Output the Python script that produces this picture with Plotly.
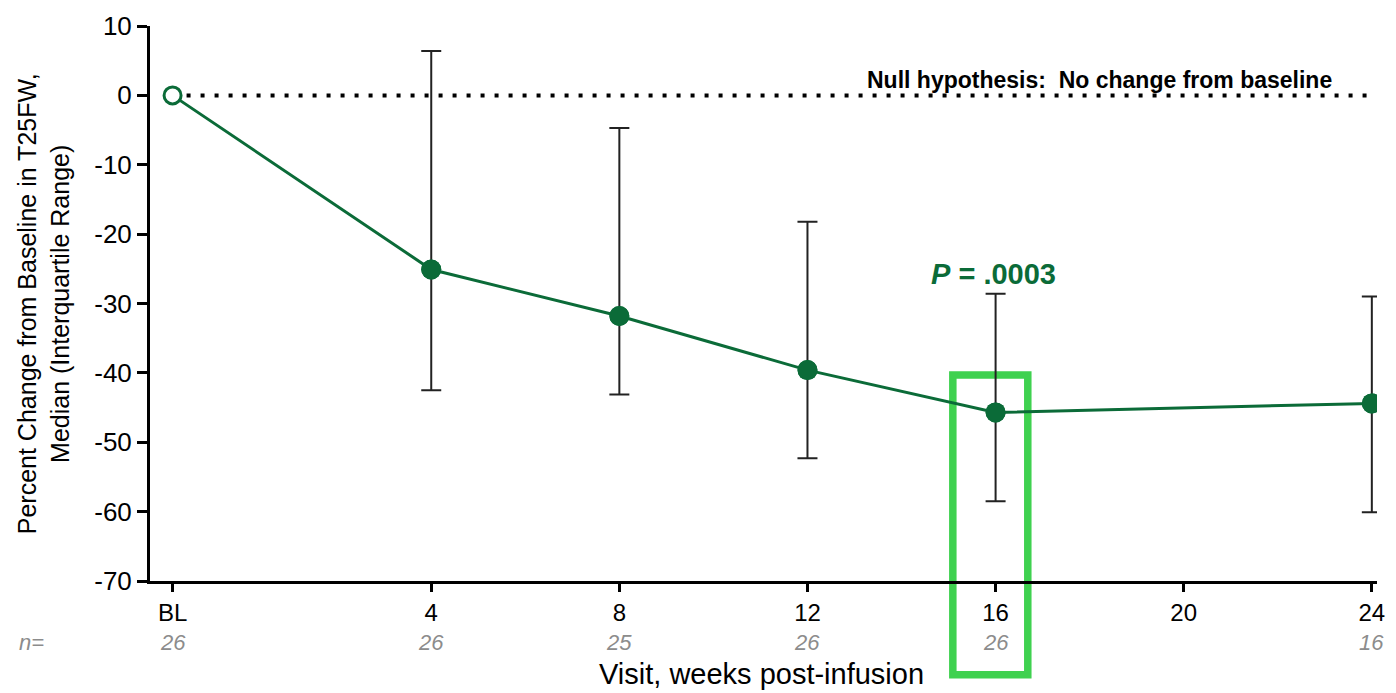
import plotly.graph_objects as go

# ---- data ----
visit_labels = ["BL", "4", "8", "12", "16", "24"]
visit_pos = [-1.5, 4, 8, 12, 16, 24]          # BL is drawn left of week 4 on the axis
median = [0, -25.1, -31.8, -39.6, -45.7, -44.4]
q_upper = [0, 6.4, -4.7, -18.2, -28.6, -29.0]
q_lower = [0, -42.5, -43.1, -52.3, -58.5, -60.1]
n_values = [26, 26, 25, 26, 26, 16]
tick_vals = [-1.5, 4, 8, 12, 16, 20, 24]
tick_text = ["BL", "4", "8", "12", "16", "20", "24"]
y_ticks = [10, 0, -10, -20, -30, -40, -50, -60, -70]
y_tick_text = ["10", "0", "-10", "-20", "-30", "-40", "-50", "-60", "-70"]

GREEN = "#0b6b38"
BRIGHT = "#3fd14f"
FONT = "Liberation Sans, Arial, sans-serif"

err_plus = [u - m for u, m in zip(q_upper, median)]
err_minus = [m - l for l, m in zip(q_lower, median)]

fig = go.Figure()

# null hypothesis dotted line
fig.add_trace(go.Scatter(
    x=[visit_pos[0], visit_pos[-1]], y=[0, 0], mode="lines",
    line=dict(color="black", width=4, dash="4px,10px"),
    hoverinfo="skip", showlegend=False))

# post-baseline points with IQR error bars
fig.add_trace(go.Scatter(
    x=visit_pos[1:], y=median[1:], mode="markers",
    marker=dict(size=20, color=GREEN),
    error_y=dict(type="data", symmetric=False, array=err_plus[1:],
                 arrayminus=err_minus[1:], color="#222222", thickness=2, width=10),
    showlegend=False))

# connecting line
fig.add_trace(go.Scatter(
    x=visit_pos, y=median, mode="lines",
    line=dict(color=GREEN, width=3), showlegend=False))

# markers on top
fig.add_trace(go.Scatter(
    x=visit_pos[1:], y=median[1:], mode="markers",
    marker=dict(size=20, color=GREEN), showlegend=False))
fig.add_trace(go.Scatter(
    x=visit_pos[:1], y=median[:1], mode="markers",
    marker=dict(size=17, color="white", line=dict(color=GREEN, width=3)),
    showlegend=False))

# highlight rectangle around week 16
fig.add_shape(type="rect", xref="paper", yref="paper",
              x0=0.6543, x1=0.7154, y0=-0.169, y1=0.371,
              line=dict(color=BRIGHT, width=7.5), fillcolor="rgba(0,0,0,0)",
              layer="below")

annotations = [
    dict(x=24, y=0, xref="x", yref="y", text="<b>Null hypothesis:  No change from baseline</b>",
         showarrow=False, xanchor="right", yanchor="bottom", xshift=-38, yshift=0,
         font=dict(family=FONT, size=23, color="black")),
    dict(x=16, y=q_upper[4], xref="x", yref="y", text="<b><i>P</i> = .0003</b>",
         showarrow=False, xanchor="center", yanchor="bottom", xshift=-2, yshift=2,
         font=dict(family=FONT, size=29, color=GREEN)),
    dict(x=0.0, y=-0.11, xref="paper", yref="paper", text="<i>n=</i>",
         showarrow=False, xanchor="right", yanchor="middle", xshift=-104,
         font=dict(family=FONT, size=22, color="#8c8c8c")),
    dict(x=0.498, y=-0.167, xref="paper", yref="paper", text="Visit, weeks post-infusion",
         showarrow=False, xanchor="center", yanchor="middle",
         font=dict(family=FONT, size=29, color="black")),
    dict(x=-0.0866, y=0.5, xref="paper", yref="paper", textangle=-90,
         text="Percent Change from Baseline in T25FW,<br>Median (Interquartile Range)",
         showarrow=False, xanchor="center", yanchor="middle",
         font=dict(family=FONT, size=25, color="black")),
]
for xp, n in zip(visit_pos, n_values):
    annotations.append(dict(x=xp, y=-0.11, xref="x", yref="paper", text=f"<i>{n}</i>",
                            showarrow=False, xanchor="center", yanchor="middle",
                            font=dict(family=FONT, size=22, color="#8c8c8c")))

fig.update_layout(
    width=1396, height=693,
    margin=dict(l=150, r=11, t=25, b=111.5),
    paper_bgcolor="white", plot_bgcolor="rgba(0,0,0,0)",
    font=dict(family=FONT, color="black"),
    annotations=annotations,
    xaxis=dict(range=[-1.98, 24.11], tickmode="array", tickvals=tick_vals, ticktext=tick_text,
               showgrid=False, zeroline=False, showline=True, linecolor="black", linewidth=3,
               ticks="outside", ticklen=8, tickwidth=3, tickcolor="black",
               tickfont=dict(family=FONT, size=24, color="black")),
    yaxis=dict(range=[-70, 10], tickmode="array", tickvals=y_ticks, ticktext=y_tick_text,
               showgrid=False, zeroline=False, showline=True, linecolor="black", linewidth=3,
               ticks="outside", ticklen=10, tickwidth=3, tickcolor="black",
               tickfont=dict(family=FONT, size=26, color="black")),
)

fig.write_html("out.html")
